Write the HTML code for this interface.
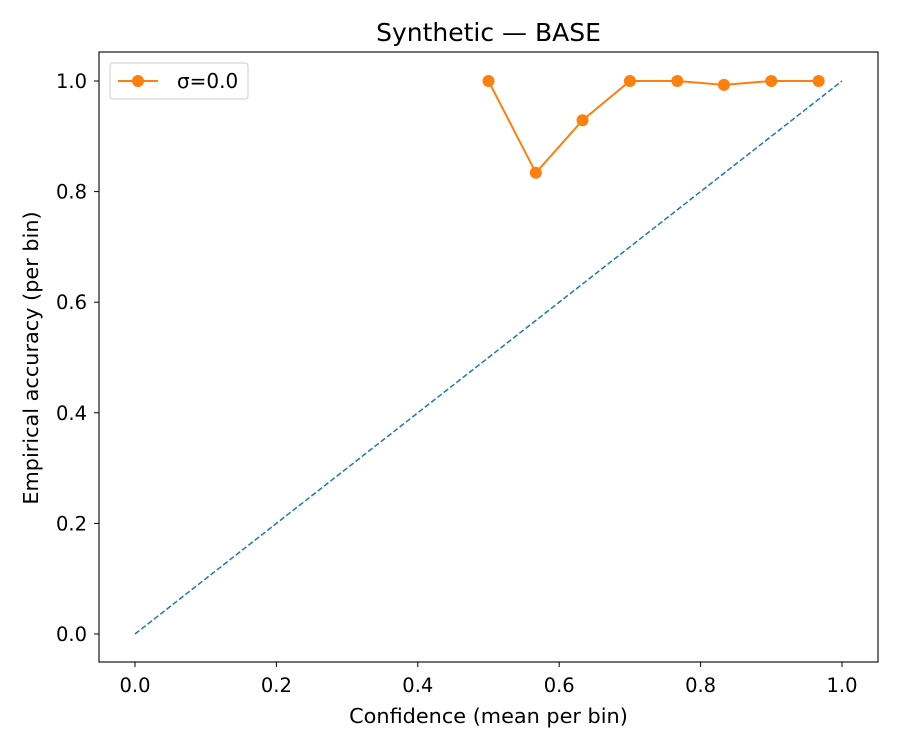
<!DOCTYPE html>
<html><head><meta charset="utf-8"><style>
body{margin:0;background:#fff;}
svg text{font-family:"DejaVu Sans","Liberation Sans",sans-serif;}
</style></head><body>
<svg id="chart" width="900" height="750" xmlns="http://www.w3.org/2000/svg">
<rect width="900" height="750" fill="#fff"/>
<text x="488.5" y="41" font-size="25" text-anchor="middle">Synthetic — BASE</text>
<g id="plot"></g>
<rect x="99" y="52" width="779" height="610" fill="none" stroke="#000" stroke-width="1.1"/>
<text x="488.5" y="723" font-size="20.8" text-anchor="middle">Confidence (mean per bin)</text>
<text transform="translate(38,358) rotate(-90)" font-size="20.8" text-anchor="middle">Empirical accuracy (per bin)</text>
<g>
<rect x="110" y="63" width="138" height="36" rx="3" fill="#fff" stroke="#ccc"/>
<line x1="118" y1="81" x2="158" y2="81" stroke="#ff7f0e" stroke-width="2"/>
<circle cx="138" cy="81" r="6" fill="#ff7f0e"/>
<text x="177" y="88" font-size="20">σ=0.0</text>
</g>
</svg>
<script>
const xTicks=[0.0,0.2,0.4,0.6,0.8,1.0];
const yTicks=[0.0,0.2,0.4,0.6,0.8,1.0];
const confidence=[0.5,0.567,0.633,0.7,0.767,0.833,0.9,0.967];
const accuracy=[1.0,0.834,0.929,1.0,1.0,0.993,1.0,1.0];
const X=v=>135+v*707, Y=v=>634-v*553;
const ns="http://www.w3.org/2000/svg";
const g=document.getElementById('plot');
function mk(t,a){const e=document.createElementNS(ns,t);for(const k in a)e.setAttribute(k,a[k]);g.appendChild(e);return e;}
xTicks.forEach(v=>{
 const l=mk('line',{x1:X(v),x2:X(v),y1:662,y2:667,stroke:'#000'});
 
 
 const t=mk('text',{x:X(v),y:692,'font-size':19.5,'text-anchor':'middle'});t.textContent=v.toFixed(1);
 
 
});
yTicks.forEach(v=>{
 const l=mk('line',{x1:94,x2:99,y1:Y(v),y2:Y(v),stroke:'#000'});
 
 
 const t=mk('text',{x:87,y:Y(v)+7,'font-size':19.5,'text-anchor':'end'});t.textContent=v.toFixed(1);
 
 
});
const d=mk('line',{x1:X(0),y1:Y(0),x2:X(1),y2:Y(1),stroke:'#1f77b4','stroke-width':1.5,'stroke-dasharray':'5.5,2.5'});


const p=mk('polyline',{points:confidence.map((c,i)=>X(c)+','+Y(accuracy[i])).join(' '),fill:'none',stroke:'#ff7f0e','stroke-width':2});


confidence.forEach((c,i)=>{
 const m=mk('circle',{cx:X(c),cy:Y(accuracy[i]),r:6,fill:'#ff7f0e'});
 
 
});
</script>
</body></html>
